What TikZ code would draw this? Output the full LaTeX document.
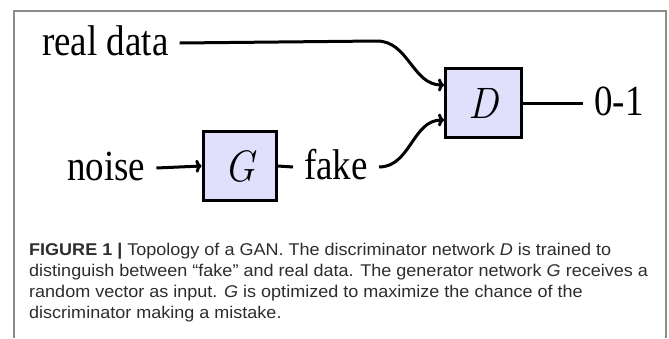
\documentclass[tikz,border=0pt]{standalone}
\usepackage{fontspec}
\usepackage{graphicx}
\usetikzlibrary{arrows.meta}
\setmainfont{Liberation Serif}
\newfontfamily\dfont{Liberation Serif}
\newfontfamily\lmfont{Latin Modern Roman}
\newfontfamily\cfont{Liberation Sans}
\definecolor{boxfill}{RGB}{224,224,252}
\definecolor{framegray}{RGB}{140,140,140}
\definecolor{captext}{RGB}{45,45,45}
\newcommand\dtxt[1]{\scalebox{0.86}[1]{\dfont\fontsize{43}{43}\selectfont #1}}
\newcommand\mtxt[1]{\scalebox{0.92}[1]{\lmfont\itshape\fontsize{44}{44}\selectfont #1}}
\newcommand\ctxt[1]{\scalebox{1.06}[1]{\cfont\fontsize{17}{20}\selectfont #1}}
\tikzset{
  lbl/.style={anchor=base west, inner xsep=11pt, inner ysep=0pt, text height=24pt, text depth=0pt},
  netbox/.style={draw, line width=3pt, fill=boxfill, minimum width=73pt, minimum height=69pt, inner sep=0pt},
  wire/.style={line width=3pt},
  arr/.style={-{To[length=6pt,width=13pt]}},
  captionline/.style={anchor=base west, inner sep=0pt, text=captext}
}
\begin{document}
\begin{tikzpicture}[x=1pt,y=-1pt]
\useasboundingbox (0,0) rectangle (669,338);
\draw[framegray, line width=1.5pt] (14,338) -- (14,11) -- (666,11) -- (666,338);
% nodes
\node[lbl] (rd) at (31,55) {\dtxt{real data}};
\node[lbl] (noise) at (56,180) {\dtxt{noise}};
\node[lbl] (fake) at (293,179) {\dtxt{fake}};
\node[lbl] (out) at (583,115) {\dtxt{0-1}};
\node[netbox] (G) at (239.5,166) {\mtxt{G}};
\node[netbox, minimum width=76pt] (D) at (483.5,103) {\mtxt{D}};
\coordinate (bend) at (377,41);
% connectors
\draw[wire] (rd.east) -- (bend);
\draw[wire,arr] (bend) to[out=0,in=180] ([yshift=18pt]D.west);
\draw[wire,arr] (noise.east) -- (G.west);
\draw[wire] (G.east) -- (fake.west);
\draw[wire,arr] (fake.east) to[out=0,in=180] ([yshift=-17pt]D.west);
\draw[wire] (D.east) -- (out.west);
% caption
\node[captionline] (c1) at (29,255) {\ctxt{\textbf{FIGURE 1 |} Topology of a GAN. The discriminator network \textit{D} is trained to}};
\node[captionline] (c2) at (29,276) {\ctxt{distinguish between “fake” and real data. The generator network \textit{G} receives a}};
\node[captionline] (c3) at (29,297) {\ctxt{random vector as input. \textit{G} is optimized to maximize the chance of the}};
\node[captionline] (c4) at (29,318) {\ctxt{discriminator making a mistake.}};
\end{tikzpicture}
\end{document}
